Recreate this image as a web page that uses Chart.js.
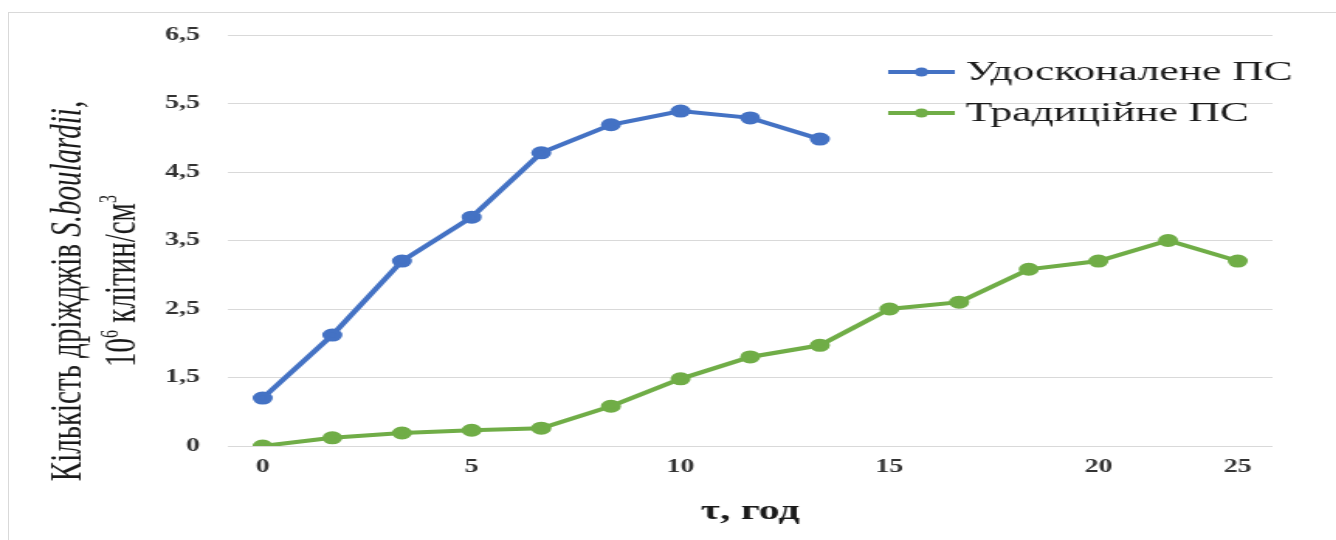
<!DOCTYPE html>
<html>
<head>
<meta charset="utf-8">
<script src="https://cdn.jsdelivr.net/npm/chart.js@4/dist/chart.umd.min.js"></script>
<style>
  html, body { margin: 0; padding: 0; background: #fff; overflow: hidden; }
  #frame { position: absolute; left: 8px; top: 12px; width: 1400px; height: 600px; border: 1px solid #d9d9d9; }
  /* the source picture is stretched sideways, so the canvas is too */
  #wrap { position: absolute; left: 0; top: 0; width: 862px; height: 540px; transform: scaleX(1.55); transform-origin: 0 0; }
</style>
</head>
<body>
<div id="frame"></div>
<div id="wrap"><canvas id="chart" width="862" height="540"></canvas></div>
<script>
// time points (every 5/3 h), only some are labelled on the axis
const xLabels = ['0', '', '', '5', '', '', '10', '', '', '15', '', '', '20', '', '25'];
const yTickLabels = ['0', '1,5', '2,5', '3,5', '4,5', '5,5', '6,5'];

const improvedLabel = 'Удосконалене ПС';
const improved = [1.2, 2.12, 3.2, 3.84, 4.78, 5.19, 5.39, 5.29, 4.98];

const traditionalLabel = 'Традиційне ПС';
const traditional = [0.5, 0.62, 0.69, 0.73, 0.76, 1.08, 1.48, 1.8, 1.97, 2.5, 2.6, 3.08, 3.2, 3.5, 3.2];

const serif = "'Liberation Serif', 'Times New Roman', serif";

function drawRun(ctx, parts, x, y) {
    // parts: [text, font, raise]
    let cx = x;
    parts.forEach(p => {
        ctx.font = p[1];
        ctx.fillText(p[0], cx, y - (p[2] || 0));
        cx += ctx.measureText(p[0]).width;
    });
}

function runWidth(ctx, parts) {
    let w = 0;
    parts.forEach(p => {
        ctx.font = p[1];
        w += ctx.measureText(p[0]).width;
    });
    return w;
}

const extras = {
    id: 'extras',
    afterDraw(chart) {
        const ctx = chart.ctx;
        const area = chart.chartArea;
        ctx.save();
        ctx.fillStyle = '#1a1a1a';
        ctx.textBaseline = 'alphabetic';
        ctx.textAlign = 'left';

        // y axis title, two lines, rotated
        const fs = 29;
        const sup = Math.round(fs * 0.55) + 'px ' + serif;
        const line1 = [
            ['Кількість дріжджів ', fs + 'px ' + serif],
            ['S.boulardii', 'italic ' + fs + 'px ' + serif],
            [',', fs + 'px ' + serif]
        ];
        const line2 = [
            ['10', fs + 'px ' + serif],
            ['6', sup, fs * 0.38],
            [' клітин/см', fs + 'px ' + serif],
            ['3', sup, fs * 0.4]
        ];
        [[line1, 51.6, 291], [line2, 87, 281]].forEach(([parts, bx, cy]) => {
            ctx.save();
            ctx.translate(bx, cy);
            ctx.rotate(-Math.PI / 2);
            drawRun(ctx, parts, -runWidth(ctx, parts) / 2, 0);
            ctx.restore();
        });

        // x axis title
        ctx.font = 'bold 27px ' + serif;
        ctx.textAlign = 'center';
        ctx.textBaseline = 'middle';
        ctx.fillText('τ, год', (area.left + area.right) / 2, 512);

        // legend
        ctx.textAlign = 'left';
        ctx.font = '28px ' + serif;
        const rows = [72, 113];
        chart.data.datasets.forEach((ds, i) => {
            const y = rows[i];
            ctx.strokeStyle = ds.borderColor;
            ctx.lineWidth = 4;
            ctx.beginPath();
            ctx.moveTo(573, y);
            ctx.lineTo(616, y);
            ctx.stroke();
            ctx.fillStyle = ds.borderColor;
            ctx.beginPath();
            ctx.arc(594.5, y, 4.5, 0, Math.PI * 2);
            ctx.fill();
            ctx.fillStyle = '#1a1a1a';
            ctx.fillText(ds.label, 623, y + 1);
        });
        ctx.restore();
    }
};

const ctx = document.getElementById('chart').getContext('2d');
new Chart(ctx, {
    type: 'line',
    data: {
        labels: xLabels,
        datasets: [{
            label: improvedLabel,
            data: improved,
            borderColor: '#4472c4',
            backgroundColor: '#4472c4',
            borderWidth: 4,
            pointRadius: 4.5,
            pointHoverRadius: 4.5,
            tension: 0
        }, {
            label: traditionalLabel,
            data: traditional,
            borderColor: '#70ad47',
            backgroundColor: '#70ad47',
            borderWidth: 4,
            pointRadius: 4.5,
            pointHoverRadius: 4.5,
            tension: 0
        }]
    },
    options: {
        responsive: false,
        animation: false,
        layout: { padding: { left: 0, right: 41, top: 35, bottom: 0 } },
        plugins: {
            legend: { display: false },
            tooltip: { enabled: false }
        },
        scales: {
            x: {
                type: 'category',
                offset: true,
                grid: { display: false, drawTicks: false },
                border: { display: false },
                ticks: {
                    autoSkip: false,
                    maxRotation: 0,
                    padding: 11,
                    color: '#333333',
                    font: { family: serif, size: 18, weight: 'bold' }
                },
                afterFit: s => { s.height = 94; }
            },
            y: {
                min: 0.5,
                max: 6.5,
                grid: { color: '#d9d9d9', lineWidth: 1, drawTicks: false },
                border: { display: false },
                ticks: {
                    stepSize: 1,
                    padding: 18,
                    color: '#333333',
                    font: { family: serif, size: 18, weight: 'bold' },
                    callback: (v, i) => yTickLabels[i]
                },
                afterFit: s => { s.width = 147; }
            }
        }
    },
    plugins: [extras]
});
</script>
</body>
</html>
